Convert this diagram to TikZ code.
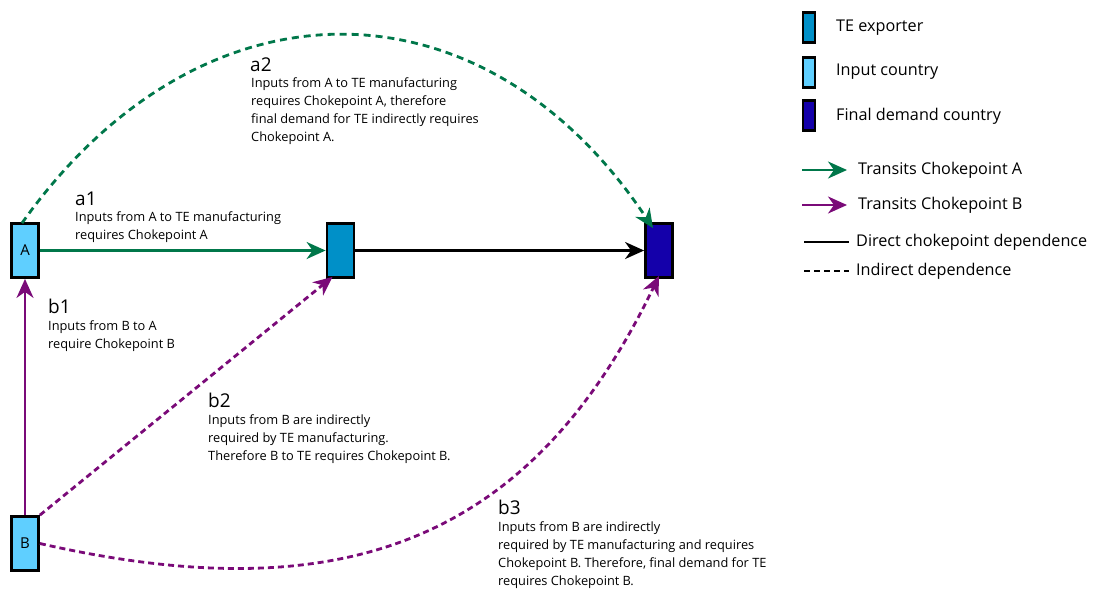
\documentclass[tikz,border=0pt]{standalone}
\usepackage{fontspec}
\setmainfont{Open Sans}
\usetikzlibrary{arrows.meta}
\definecolor{cgreen}{HTML}{00774A}
\definecolor{cpurple}{HTML}{7A0A78}
\definecolor{cinput}{HTML}{5FCFFF}
\definecolor{cte}{HTML}{0090C8}
\definecolor{cfinal}{HTML}{1400AA}
\tikzset{
  box/.style={draw=black, line width=2.8pt, minimum width=27pt, minimum height=54pt, inner sep=0pt, font=\fontsize{15}{15}\selectfont},
  lbox/.style={draw=black, line width=2.6pt, minimum width=12pt, minimum height=30pt, inner sep=0pt},
  tip/.style={-{Stealth[length=19pt,width=17pt,inset=6pt]}},
  solidg/.style={tip, draw=cgreen, line width=2.4pt},
  solidp/.style={tip, draw=cpurple, line width=2.4pt},
  dashg/.style={tip, draw=cgreen, line width=2.8pt, dash pattern=on 7pt off 5pt},
  dashp/.style={tip, draw=cpurple, line width=2.8pt, dash pattern=on 6pt off 4pt},
  head/.style={anchor=base west, inner sep=0pt, font=\fontsize{19}{19}\selectfont},
  body/.style={anchor=north west, inner sep=0pt, align=left, font=\fontsize{12.8}{18}\selectfont},
  legt/.style={anchor=west, inner sep=0pt, font=\fontsize{16.2}{16}\selectfont},
}
\begin{document}
\begin{tikzpicture}[x=1pt,y=-1pt]
\useasboundingbox (0,0) rectangle (1093,590);
% main nodes
\node[box, fill=cinput] (A) at (25,250.5) {A};
\node[box, fill=cte] (T) at (340.5,250.5) {};
\node[box, fill=cfinal] (F) at (659,250.5) {};
\node[box, fill=cinput] (B) at (25,543.5) {B};
% connectors
\draw[solidg] (A.east) -- (T.west);
\draw[tip, line width=2.4pt] (T.east) -- (F.west);
\draw[solidp] (B.north) -- (A.south);
\draw[dashp] (B.north east) -- ([xshift=-8pt,yshift=2pt]T.south);
\draw[dashp] (B.east) .. controls (340,612) and (530,544) .. ([yshift=3pt]F.south);
\draw[dashg] ([xshift=-3pt,yshift=-1pt]A.north) .. controls (200,-28) and (483,-28) .. ([xshift=-6pt,yshift=-6pt]F.north);
% labels
\node[head] (a2h) at (250,71) {a2};
\node[body] (a2) at (251,78) {Inputs from A to TE manufacturing\\requires Chokepoint A, therefore\\final demand for TE indirectly requires\\Chokepoint A.};
\node[head] (a1h) at (75,205) {a1};
\node[body] (a1) at (75,212) {Inputs from A to TE manufacturing\\requires Chokepoint A};
\node[head] (b1h) at (48,313) {b1};
\node[body] (b1) at (48,320) {Inputs from B to A\\require Chokepoint B};
\node[head] (b2h) at (208,407) {b2};
\node[body] (b2) at (208,414) {Inputs from B are indirectly\\required by TE manufacturing.\\Therefore B to TE requires Chokepoint B.};
\node[head] (b3h) at (498,514) {b3};
\node[body] (b3) at (498,521) {Inputs from B are indirectly\\required by TE manufacturing and requires\\Chokepoint B. Therefore, final demand for TE\\requires Chokepoint B.};
% legend
\node[lbox, fill=cte] (L1) at (809,27.5) {};
\node[legt] (L1t) at (836,28) {TE exporter};
\node[lbox, fill=cinput] (L2) at (809,72.5) {};
\node[legt] (L2t) at (836,72) {Input country};
\node[lbox, fill=cfinal] (L3) at (809,115.5) {};
\node[legt] (L3t) at (836,116) {Final demand country};
\coordinate (g1) at (802,170);
\node[legt] (g1t) at (858,170) {Transits Chokepoint A};
\draw[solidg] (g1) -- ([xshift=-11pt]g1t.west);
\coordinate (p1) at (802,205);
\node[legt] (p1t) at (858,205) {Transits Chokepoint B};
\draw[solidp] (p1) -- ([xshift=-11pt]p1t.west);
\coordinate (s1) at (804,242);
\node[legt] (s1t) at (856,242) {Direct chokepoint dependence};
\draw[line width=2.4pt] (s1) -- ([xshift=-7pt]s1t.west);
\coordinate (d1) at (804,271);
\node[legt] (d1t) at (856,271) {Indirect dependence};
\draw[line width=2.4pt, dash pattern=on 6pt off 4pt] (d1) -- ([xshift=-7pt]d1t.west);
\end{tikzpicture}
\end{document}
